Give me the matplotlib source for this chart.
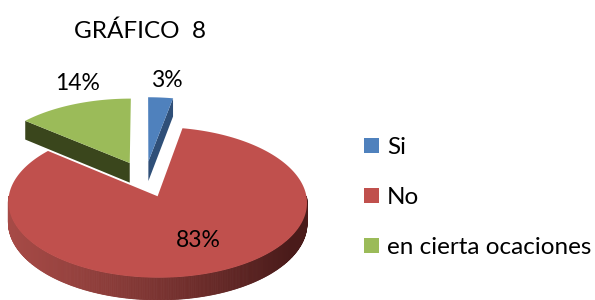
import numpy as np
import matplotlib
matplotlib.use("Agg")
import matplotlib.pyplot as plt
from matplotlib.patches import Polygon, Patch
from matplotlib.colors import to_rgb

# ---- data ----
title = "GRÁFICO  8"
categories = ["Si", "No", "en cierta ocaciones"]
values = [3, 83, 14]
labels = ["3%", "83%", "14%"]

# ---- style ----
top_colors = ["#4F81BD", "#C0504D", "#9BBB59"]
wall_light = ["#3D6598", "#A84B47", "#44521F"]
wall_dark = ["#2F4F78", "#4A1B1A", "#3A461C"]
explode = [0.25, 0.25, 0.25]
label_rho = [1.3, 0.62, 1.32]
label_ang_shift = [-1, 5, -7]

W, H = 595, 300
CX, CY = 145, 179      # pie centre (pixels)
RX, RY = 146, 72       # radii
THICK = 20             # pie thickness
P = 0.08               # perspective

fig = plt.figure(figsize=(W / 100, H / 100), dpi=100)
ax = fig.add_axes([0, 0, 1, 1])
ax.set_xlim(0, W)
ax.set_ylim(H, 0)
ax.axis("off")
FONT = ["Lato", "DejaVu Sans"]


def proj(u, v, z=0.0):
    f = 1.0 / (1.0 + P * v)
    return CX + RX * u * f, CY - (RY * v - z * THICK) * f


total = float(sum(values))
fracs = [v / total for v in values]
spans = []
hi = 90.0
for fr in fracs:
    lo = hi - fr * 360.0
    spans.append((lo, hi))
    hi = lo


def slice_geom(i):
    lo, hi = spans[i]
    mid = np.radians((lo + hi) / 2)
    ou, ov = explode[i] * np.cos(mid), explode[i] * np.sin(mid)
    return lo, hi, ou, ov


def draw_slice(i, zorder):
    lo, hi, ou, ov = slice_geom(i)
    # cut faces
    for ang, vis in ((hi, np.cos(np.radians(hi)) < -1e-6),
                     (lo, np.cos(np.radians(lo)) > 1e-6)):
        if vis:
            a = np.radians(ang)
            pts = [proj(ou, ov, 0), proj(ou + np.cos(a), ov + np.sin(a), 0),
                   proj(ou + np.cos(a), ov + np.sin(a), 1), proj(ou, ov, 1)]
            ax.add_patch(Polygon(pts, closed=True, fc=wall_dark[i] if i != 1 else wall_light[i],
                                 ec="none", zorder=zorder))
    # outer wall (front half) with horizontal gradient
    ts = np.radians(np.linspace(lo, hi, 600))
    c1, c2 = np.array(to_rgb(wall_light[i])), np.array(to_rgb(wall_dark[i]))
    xmin, xmax = CX - RX, CX + RX
    for t0, t1 in zip(ts[:-1], ts[1:]):
        if np.sin((t0 + t1) / 2) >= 0:
            continue
        p0 = proj(ou + np.cos(t0), ov + np.sin(t0), 0)
        p1 = proj(ou + np.cos(t1), ov + np.sin(t1), 0)
        q1 = proj(ou + np.cos(t1), ov + np.sin(t1), 1)
        q0 = proj(ou + np.cos(t0), ov + np.sin(t0), 1)
        s = np.clip((p0[0] - xmin) / (xmax - xmin), 0, 1)
        col = c1 + (c2 - c1) * s ** 1.2
        ax.add_patch(Polygon([p0, p1, q1, q0], closed=True, fc=col, ec=col,
                             lw=0.6, zorder=zorder))
    # top face
    ts = np.radians(np.linspace(lo, hi, 300))
    pts = [proj(ou, ov, 0)] + [proj(ou + np.cos(t), ov + np.sin(t), 0) for t in ts]
    ax.add_patch(Polygon(pts, closed=True, fc=top_colors[i], ec="none", zorder=zorder + 1))


# back slices first, big front slice last
draw_slice(2, 2)
draw_slice(0, 2)
draw_slice(1, 5)

# data labels
for i, lab in enumerate(labels):
    lo, hi, ou, ov = slice_geom(i)
    mid = np.radians((lo + hi) / 2 + label_ang_shift[i])
    x, y = proj(ou + label_rho[i] * np.cos(mid), ov + label_rho[i] * np.sin(mid), 0)
    ax.text(x, y, lab, ha="center", va="center", fontsize=16.5, family=FONT,
            color="#000000", zorder=10)

# title
ax.text(140, 31, title, ha="center", va="center", fontsize=17.5, family=FONT, color="#000000")

# legend
handles = [Patch(fc=c, ec="none") for c in top_colors]
leg = ax.legend(handles, categories, loc="upper left", bbox_to_anchor=(364 / W, 1 - 137 / H),
                frameon=False, prop={"family": FONT, "size": 17.5},
                handlelength=0.6, handleheight=0.6, handletextpad=0.35,
                labelspacing=1.2, borderpad=0, borderaxespad=0)

fig.savefig("out.png", dpi=100)
